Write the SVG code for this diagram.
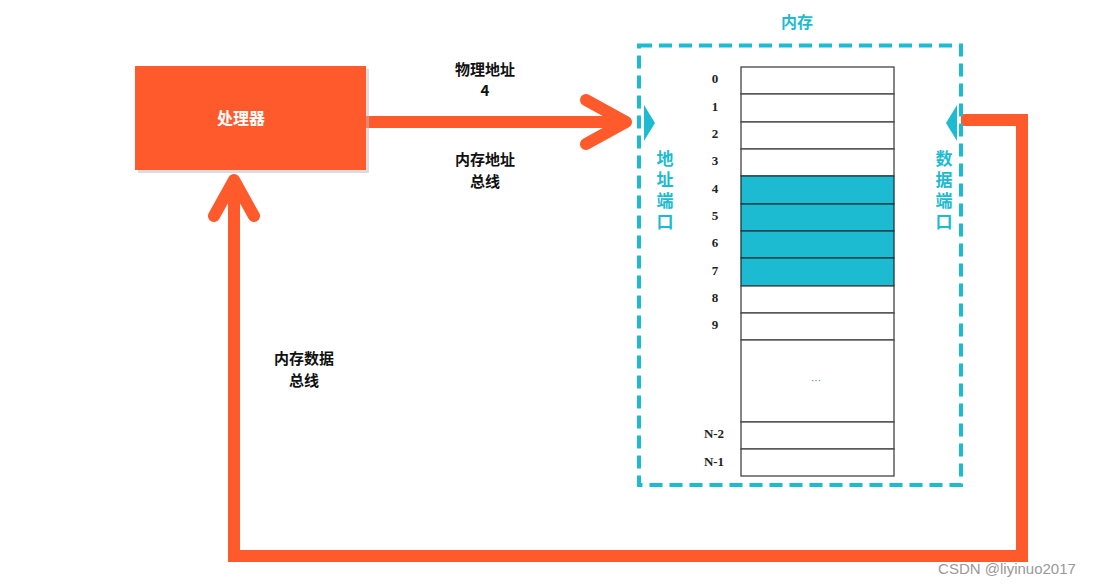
<svg xmlns="http://www.w3.org/2000/svg" width="1096" height="588" viewBox="0 0 1096 588">
<style>
.cjk{font-family:"Noto Sans CJK SC","Noto Sans",sans-serif;font-weight:bold;text-anchor:middle}
.lbl{font-size:15px;fill:#111}
.teal{fill:#1DBBD1;font-size:17px;writing-mode:vertical-rl;text-anchor:start;letter-spacing:4px}
.num{font-family:"Liberation Serif","DejaVu Serif",serif;font-weight:bold;font-size:13px;fill:#222;text-anchor:middle}
.row{fill:#fff;stroke:#444;stroke-width:1.3}
.hl{fill:#1DBBD1;stroke:#1a3a40;stroke-width:1.3}
.bus{fill:none;stroke:#FF5A2B;stroke-width:12}
.head{fill:none;stroke:#FF5A2B;stroke-width:12;stroke-linecap:round;stroke-linejoin:round}
</style>
<rect width="1096" height="588" fill="#fff"/>
<g id="connectors">
<path class="bus" d="M366 122 H622"/>
<path class="head" d="M586 100 L626 122 L586 144"/>
<path class="bus" d="M961 120 H1022 V556 H234 V186"/>
<path class="head" d="M214 216 L234 180 L254 216"/>
</g>
<g id="processor">
<rect x="138" y="69" width="231" height="104" fill="#bbb" opacity="0.5"/>
<rect x="135" y="66" width="231" height="104" fill="#FF5A2B"/>
<text class="cjk" x="241" y="124" font-size="16" fill="#fff">处理器</text>
</g>
<g id="labels">
<text class="cjk lbl" x="485" y="75">物理地址</text>
<text class="cjk lbl" x="485" y="96">4</text>
<text class="cjk lbl" x="485" y="165">内存地址</text>
<text class="cjk lbl" x="485" y="187">总线</text>
<text class="cjk lbl" x="304" y="364">内存数据</text>
<text class="cjk lbl" x="304" y="386">总线</text>
</g>
<g id="memory">
<text class="cjk" x="797" y="28" font-size="16" fill="#1DBBD1">内存</text>
<rect x="639" y="45.5" width="322" height="439.5" fill="none" stroke="#1DBBD1" stroke-width="4" stroke-dasharray="13 7"/>
<polygon points="644,105 655,123 644,141" fill="#1DBBD1"/>
<polygon points="957,105 946,123 957,141" fill="#1DBBD1"/>
<text class="cjk teal" x="665" y="150">地址端口</text>
<text class="cjk teal" x="944" y="150">数据端口</text>
<rect class="row" x="741" y="67" width="153" height="27"/>
<rect class="row" x="741" y="94" width="153" height="28"/>
<rect class="row" x="741" y="122" width="153" height="27"/>
<rect class="row" x="741" y="149" width="153" height="27"/>
<rect class="hl" x="741" y="176" width="153" height="28"/>
<rect class="hl" x="741" y="204" width="153" height="27"/>
<rect class="hl" x="741" y="231" width="153" height="27"/>
<rect class="hl" x="741" y="258" width="153" height="28"/>
<rect class="row" x="741" y="286" width="153" height="27"/>
<rect class="row" x="741" y="313" width="153" height="27"/>
<rect class="row" x="741" y="340" width="153" height="82"/>
<rect class="row" x="741" y="422" width="153" height="27"/>
<rect class="row" x="741" y="449" width="153" height="27"/>
<text class="num" x="715" y="83">0</text>
<text class="num" x="715" y="111">1</text>
<text class="num" x="715" y="138">2</text>
<text class="num" x="715" y="165">3</text>
<text class="num" x="715" y="193">4</text>
<text class="num" x="715" y="220">5</text>
<text class="num" x="715" y="247">6</text>
<text class="num" x="715" y="275">7</text>
<text class="num" x="715" y="302">8</text>
<text class="num" x="715" y="329">9</text>
<text x="816" y="384" font-family="Liberation Sans,sans-serif" font-size="10" fill="#5577aa" text-anchor="middle">···</text>
<text class="num" x="714" y="438">N-2</text>
<text class="num" x="714" y="466">N-1</text>
</g>
<text x="1007" y="574" font-family="Liberation Sans,Arial,sans-serif" font-size="15" fill="#999" text-anchor="middle">CSDN @liyinuo2017</text>
</svg>
